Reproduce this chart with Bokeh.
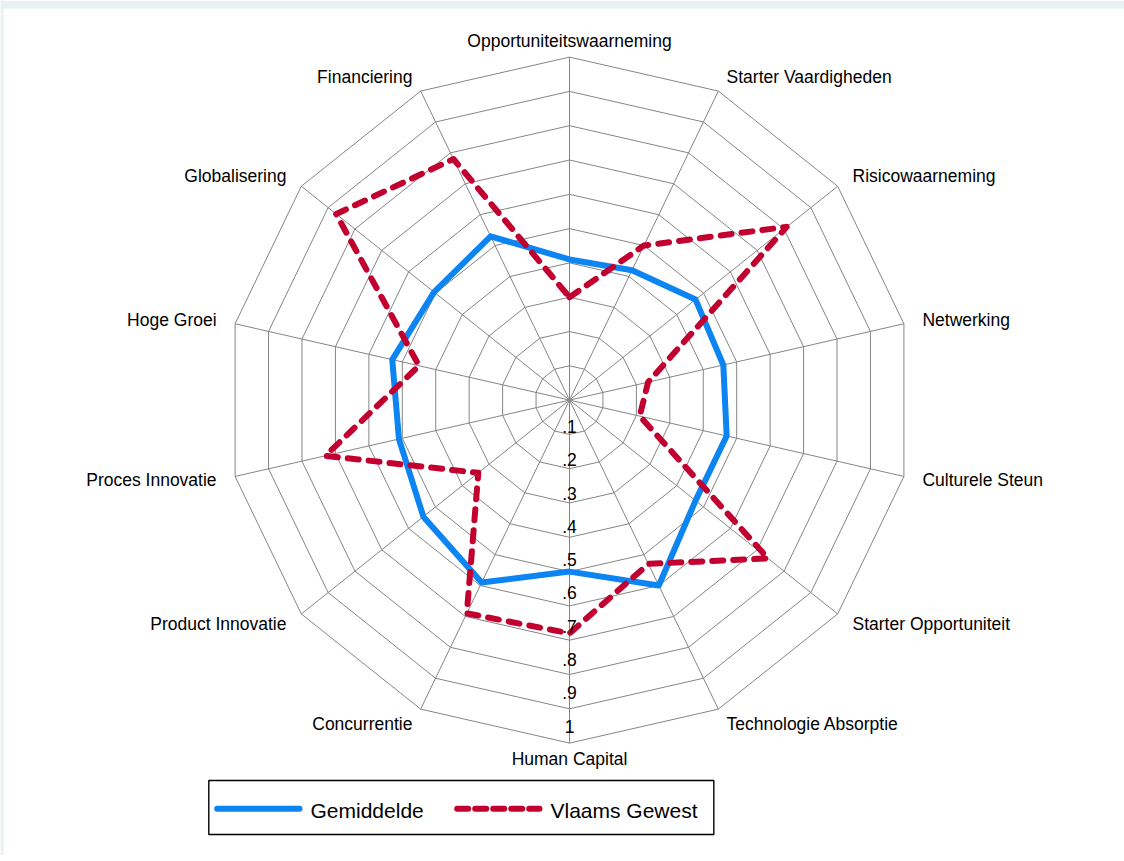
import numpy as np
from bokeh.plotting import figure
from bokeh.models import Range1d
from bokeh.core.properties import value
from bokeh.embed import file_html
from bokeh.resources import INLINE

# ---------------- data ----------------
categories = ["Opportuniteitswaarneming", "Starter Vaardigheden", "Risicowaarneming",
              "Netwerking", "Culturele Steun", "Starter Opportuniteit",
              "Technologie Absorptie", "Human Capital", "Concurrentie",
              "Product Innovatie", "Proces Innovatie", "Hoge Groei",
              "Globalisering", "Financiering"]
gemiddelde = [0.41, 0.42, 0.47, 0.46, 0.47, 0.47, 0.60, 0.50, 0.59, 0.545, 0.51, 0.53, 0.505, 0.53]
vlaams_gewest = [0.30, 0.50, 0.81, 0.235, 0.21, 0.74, 0.53, 0.68, 0.69, 0.34, 0.73, 0.45, 0.87, 0.78]
tick_values = [0.1, 0.2, 0.3, 0.4, 0.5, 0.6, 0.7, 0.8, 0.9, 1.0]
tick_labels = [".1", ".2", ".3", ".4", ".5", ".6", ".7", ".8", ".9", "1"]
series_names = ["Gemiddelde", "Vlaams Gewest"]

# ---------------- layout ----------------
W, H = 1124, 855
CX, CY, R = 569.0, 399.6, 343.0
FONT = value("Liberation Sans")
BLUE = "#0c84f2"
RED = "#c2002f"
GRID = "#858585"

n = len(categories)
theta = np.arange(n) * 2 * np.pi / n
sin_t, cos_t = np.sin(theta), np.cos(theta)


def to_xy(vals):
    v = np.asarray(vals, dtype=float)
    return CX + v * R * sin_t, CY - v * R * cos_t


p = figure(width=W, height=H, x_range=Range1d(0, W), y_range=Range1d(H, 0),
           output_backend="svg", toolbar_location=None, min_border=0,
           x_axis_type=None, y_axis_type=None)
p.grid.visible = False
p.outline_line_color = None
p.background_fill_color = "white"
p.border_fill_color = "white"

# light frame band at top and left
p.quad(left=[0, 0], right=[W, 3], top=[0, 0], bottom=[8, H], fill_color="#e8f0f2",
       line_color=None)

# rings
ring_xs, ring_ys = [], []
for v in tick_values:
    x, y = to_xy([v] * n)
    ring_xs.append(list(x) + [x[0]])
    ring_ys.append(list(y) + [y[0]])
p.multi_line(ring_xs, ring_ys, line_color=GRID, line_width=1)

# spokes
ox, oy = to_xy([1.0] * n)
p.segment(x0=[CX] * n, y0=[CY] * n, x1=ox, y1=oy, line_color=GRID, line_width=1)

# series
bx, by = to_xy(gemiddelde)
p.line(list(bx) + [bx[0]], list(by) + [by[0]], line_color=BLUE, line_width=6,
       line_join="round", line_cap="round")
rx, ry = to_xy(vlaams_gewest)
p.line(list(rx) + [rx[0]], list(ry) + [ry[0]], line_color=RED, line_width=6,
       line_join="round", line_cap="round", line_dash="11 10")

# category labels
lx = ox + 19 * sin_t
ly = oy - 16 * cos_t
groups = {"left": [], "right": [], "center": []}
for i in range(n):
    if sin_t[i] > 0.1:
        groups["left"].append(i)
    elif sin_t[i] < -0.1:
        groups["right"].append(i)
    else:
        groups["center"].append(i)
for align, idx in groups.items():
    p.text(x=[lx[i] for i in idx], y=[ly[i] for i in idx],
           text=[categories[i] for i in idx], text_align=align, text_baseline="middle",
           text_font=FONT, text_font_size="17.5px", text_color="black")

# tick labels on the Human Capital axis
tv = np.asarray(tick_values)
p.text(x=[CX] * len(tv), y=CY + tv * R * 0.971 - 7, text=tick_labels,
       text_align="center", text_baseline="middle", text_font=FONT,
       text_font_size="17.5px", text_color="black")

# legend (drawn manually)
p.quad(left=[208.3], right=[713.3], top=[780], bottom=[834], fill_color="white",
       line_color="black", line_width=1.4)
p.line([216.7, 299], [808.3, 808.3], line_color=BLUE, line_width=6, line_cap="round")
p.line([456.7, 539], [808.3, 808.3], line_color=RED, line_width=6, line_cap="round",
       line_dash="11 7")
p.text(x=[310, 550], y=[810, 810], text=series_names, text_align="left",
       text_baseline="middle", text_font=FONT, text_font_size="21px", text_color="black")

open("out.html", "w").write(file_html(p, INLINE))
